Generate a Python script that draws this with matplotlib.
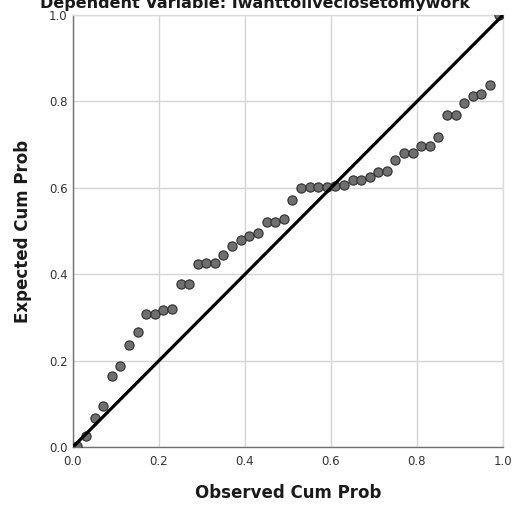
import matplotlib
matplotlib.use('Agg')
from matplotlib import pyplot as plt

# observed vs expected cumulative probabilities of the regression residuals
observed = [0.01, 0.03, 0.05, 0.07, 0.09, 0.11, 0.13, 0.15, 0.17, 0.19,
            0.21, 0.23, 0.25, 0.27, 0.29, 0.31, 0.33, 0.35, 0.37, 0.39,
            0.41, 0.43, 0.45, 0.47, 0.49, 0.51, 0.53, 0.55, 0.57, 0.59,
            0.61, 0.63, 0.65, 0.67, 0.69, 0.71, 0.73, 0.75, 0.77, 0.79,
            0.81, 0.83, 0.85, 0.87, 0.89, 0.91, 0.93, 0.95, 0.97, 0.99]
expected = [0.003, 0.026, 0.067, 0.096, 0.164, 0.188, 0.235, 0.266, 0.309, 0.309,
            0.318, 0.319, 0.378, 0.378, 0.423, 0.425, 0.426, 0.444, 0.465, 0.480,
            0.488, 0.496, 0.521, 0.521, 0.527, 0.572, 0.599, 0.602, 0.602, 0.602,
            0.604, 0.606, 0.617, 0.617, 0.626, 0.636, 0.638, 0.665, 0.681, 0.681,
            0.696, 0.696, 0.717, 0.769, 0.769, 0.796, 0.812, 0.818, 0.838, 1.0]
ticks = [0.0, 0.2, 0.4, 0.6, 0.8, 1.0]
tick_labels = ['0.0', '0.2', '0.4', '0.6', '0.8', '1.0']

fig = plt.figure(figsize=(5.2, 5.08), dpi=100)
ax = fig.add_axes([73 / 520, 1 - 447 / 508, 430 / 520, 432 / 508])

ax.scatter(observed, expected, s=44, c='#6f6f6f', edgecolors='#2e2e2e',
           linewidths=0.8, zorder=3, clip_on=True)
ax.plot([0, 1], [0, 1], c='black', lw=2.3, zorder=4, solid_capstyle='butt')

ax.set_xlim(0, 1.0)
ax.set_ylim(0, 1.0)
ax.set_xticks(ticks)
ax.set_xticklabels(tick_labels)
ax.set_yticks(ticks)
ax.set_yticklabels(tick_labels)
ax.tick_params(length=0, labelsize=8.5, labelcolor='#333333')
ax.tick_params(axis='x', pad=6)
ax.tick_params(axis='y', pad=4)
ax.grid(True, color='#d4d4d4', lw=1.0)
ax.set_axisbelow(True)

for side in ['top', 'right']:
    ax.spines[side].set_color('#dcdcdc')
    ax.spines[side].set_linewidth(1.0)
for side in ['left', 'bottom']:
    ax.spines[side].set_color('#707070')
    ax.spines[side].set_linewidth(1.0)

fig.text(288 / 520, 1 - 493 / 508, 'Observed Cum Prob', ha='center', va='center',
         fontsize=12, fontweight='bold', color='#1a1a1a')
fig.text(23 / 520, 1 - 231 / 508, 'Expected Cum Prob', ha='center', va='center',
         rotation=90, fontsize=12, fontweight='bold', color='#1a1a1a')
fig.text(255 / 520, 1 - 8 / 508, 'Dependent Variable: Iwanttoliveclosetomywork',
         ha='center', va='baseline', fontsize=11.5, fontweight='bold', color='#1a1a1a')

fig.savefig('out.png', dpi=100)
